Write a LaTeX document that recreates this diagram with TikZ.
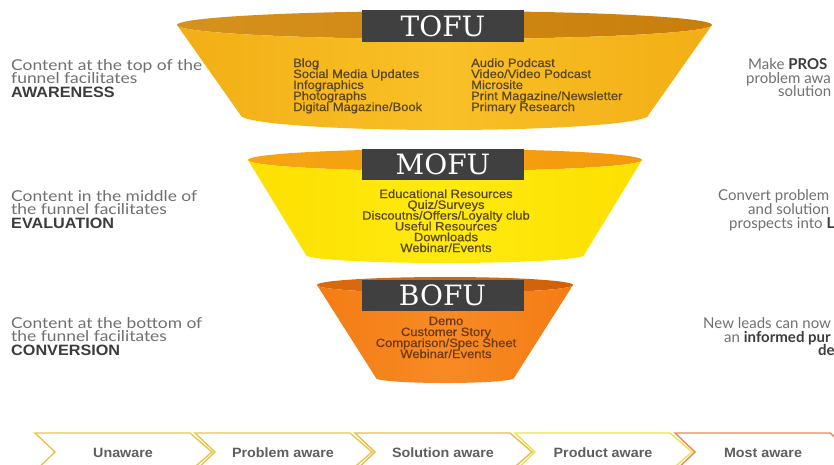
\documentclass[tikz,border=0pt]{standalone}
\usepackage{fontspec}
\setmainfont{Liberation Sans}
\newfontfamily\sidefont{Lato}
\newfontfamily\sidewidefont[FakeStretch=1.16]{Lato}
\newfontfamily\sideboldfont[FakeStretch=1.08]{Liberation Sans}
\newfontfamily\listfont[FakeStretch=1.08,FakeBold=0.6]{Liberation Sans}
\newfontfamily\titlefont{DejaVu Serif}
\newfontfamily\chevfont[FakeStretch=1.06]{Liberation Sans}

\definecolor{sidegray}{HTML}{707070}
\definecolor{sidedark}{HTML}{3C3C3C}
\definecolor{boxgray}{HTML}{404040}
\definecolor{listbrown}{HTML}{5A4620}
\definecolor{listrust}{HTML}{6E3A14}
\definecolor{chevgray}{HTML}{5E5E5E}
% funnel colours
\definecolor{tofuInL}{HTML}{D6921C}
\definecolor{tofuInR}{HTML}{C97E0C}
\definecolor{tofuA}{HTML}{F3AE15}
\definecolor{tofuB}{HTML}{F9C027}
\definecolor{mofuInL}{HTML}{F6A412}
\definecolor{mofuInR}{HTML}{F39A0C}
\definecolor{mofuA}{HTML}{FCE000}
\definecolor{mofuB}{HTML}{FFEA10}
\definecolor{bofuInL}{HTML}{DA6A0C}
\definecolor{bofuInR}{HTML}{D0620A}
\definecolor{bofuA}{HTML}{F47C14}
\definecolor{bofuB}{HTML}{F88A24}
% chevron outlines
\definecolor{chevA}{HTML}{E8C64E}
\definecolor{chevB}{HTML}{E9BC4C}
\definecolor{chevC}{HTML}{EDE250}
\definecolor{chevD}{HTML}{EC8954}

% cx, cy, rx, ry of the rim; y, rx, ry of the bottom; interior style; body style
\newcommand\drawfunnel[9]{%
  \shade[#8] plot[domain=0:360,samples=90,variable=\t]
      ({#1+#3*cos(\t)},{#2+#4*sin(\t)}) -- cycle;
  \shade[#9] plot[domain=180:0,samples=70,variable=\t]
      ({#1+#3*cos(\t)},{#2+#4*sin(\t)})
    -- plot[domain=0:180,samples=70,variable=\t]
      ({#1+#6*cos(\t)},{#5+#7*sin(\t)}) -- cycle;
}

\tikzset{
  titlebox/.style={fill=boxgray, text=white, inner sep=0,
    minimum width=162, font=\titlefont\fontsize{28}{28}\selectfont},
  listl/.style={anchor=base west, inner sep=0, text=listbrown,
    font=\listfont\fontsize{12}{11}\selectfont},
  listc/.style={anchor=base, inner sep=0, text=listbrown,
    font=\listfont\fontsize{12}{11}\selectfont},
  sideline/.style={anchor=base west, inner sep=0, text=sidegray,
    font=\sidefont\fontsize{15}{13.5}\selectfont},
  sidewide/.style={sideline, font=\sidewidefont\fontsize{15}{13.5}\selectfont},
  sidebold/.style={anchor=base west, inner sep=0, text=sidedark,
    font=\sideboldfont\bfseries\fontsize{15}{13.5}\selectfont},
  chevron/.style={line width=1.4, line join=miter},
  chevlabel/.style={anchor=base, inner sep=0, text=chevgray,
    font=\chevfont\bfseries\fontsize{13.5}{13.5}\selectfont},
}

\begin{document}
\begin{tikzpicture}[x=1pt,y=-1pt]
\useasboundingbox (0,0) rectangle (834,464);
\fill[white] (0,0) rectangle (834,464);

% ---- the three funnel stages ----
\drawfunnel{444.5}{25}{267.5}{14}{115}{204}{15}%
  {left color=tofuInL, right color=tofuInR}%
  {left color=tofuA, right color=tofuA, middle color=tofuB}
\drawfunnel{445}{160}{197}{11}{255}{139}{8}%
  {left color=mofuInL, right color=mofuInR}%
  {left color=mofuA, right color=mofuA, middle color=mofuB}
\drawfunnel{445}{285}{128}{8}{378}{69}{5}%
  {left color=bofuInL, right color=bofuInR}%
  {left color=bofuA, right color=bofuA, middle color=bofuB}

\node[titlebox, minimum height=32] (tofu) at (443,26) {TOFU};
\node[titlebox, minimum height=31] (mofu) at (443,164.5) {MOFU};
\node[titlebox, minimum height=31] (bofu) at (442.5,295.5) {BOFU};

% ---- content types ----
\foreach \txt [count=\i] in {Blog, Social Media Updates, Infographics,
    Photographs, Digital Magazine/Book}
  \node[listl] (tl\i) at (293,{56+11*\i}) {\txt};
\foreach \txt [count=\i] in {Audio Podcast, Video/Video Podcast, Microsite,
    Print Magazine/Newsletter, Primary Research}
  \node[listl] (tr\i) at (471,{56+11*\i}) {\txt};
\foreach \txt [count=\i] in {Educational Resources, Quiz/Surveys,
    Discoutns/Offers/Loyalty club, Useful Resources, Downloads, Webinar/Events}
  \node[listc] (m\i) at (446,{187.2+10.8*\i}) {\txt};
\foreach \txt [count=\i] in {Demo, Customer Story, Comparison/Spec Sheet,
    Webinar/Events}
  \node[listc, text=listrust] (b\i) at (446,{314+11*\i}) {\txt};

% ---- left-hand descriptions ----
\node[sidewide] (ta) at (11,70) {Content at the top of the};
\node[sidewide] (tb) at (11,83.5) {funnel facilitates};
\node[sidebold] (tc) at (11,97) {AWARENESS};
\node[sidewide] (ma) at (11,201) {Content in the middle of};
\node[sidewide] (mb) at (11,214.5) {the funnel facilitates};
\node[sidebold] (mc) at (11,228) {EVALUATION};
\node[sidewide] (ba) at (11,328) {Content at the bottom of};
\node[sidewide] (bb) at (11,341.5) {the funnel facilitates};
\node[sidebold] (bc) at (11,355) {CONVERSION};

% ---- right-hand goals ----
\node[sideline] (ra1) at (748,69) {Make \textcolor{sidedark}{\bfseries PROS}};
\node[sideline] (ra2) at (746,83) {problem awa};
\node[sideline] (ra3) at (778,96.5) {solution};
\node[sideline] (rb1) at (718,200) {Convert problem};
\node[sideline] (rb2) at (748,214) {and solution};
\node[sideline] (rb3) at (729,228) {prospects into \textcolor{sidedark}{\bfseries L}};
\node[sideline] (rc1) at (703,328) {New leads can now};
\node[sideline] (rc2) at (724,342) {an \textcolor{sidedark}{\bfseries informed pur}};
\node[sideline] (rc3) at (818,355.5) {\textcolor{sidedark}{\bfseries de}};

% ---- awareness stages ----
\foreach \x/\col/\lab [count=\i] in {35/chevA/Unaware, 195/chevA/Problem aware,
    355/chevB/Solution aware, 515/chevC/Product aware, 675/chevD/Most aware} {
  \draw[chevron, draw=\col] (\x,433) -- ++(155,0) -- ++(22,19) -- ++(-22,19)
    -- ++(-155,0) -- ++(20,-19) -- cycle;
  \node[chevlabel] (s\i) at ({\x+88},457) {\lab};
}
\end{tikzpicture}
\end{document}
